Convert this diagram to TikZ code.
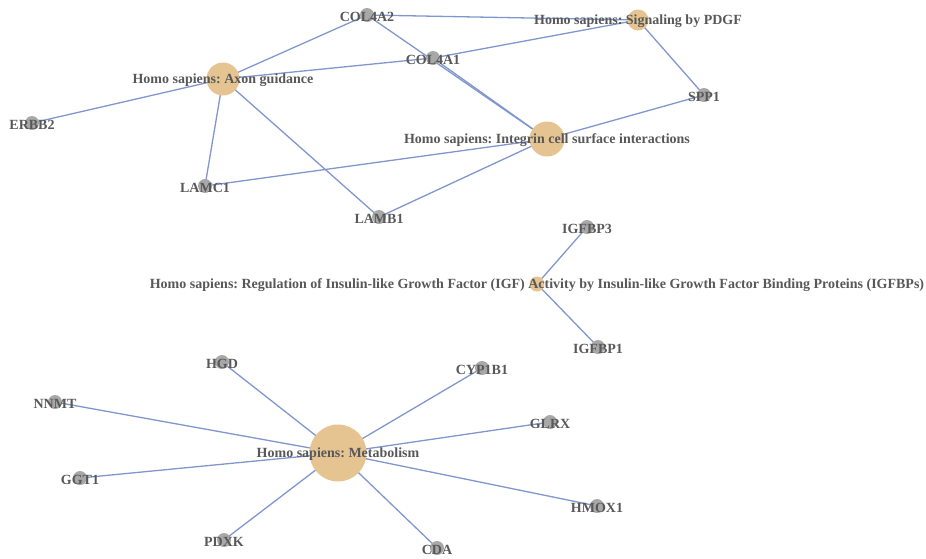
\documentclass[tikz,border=0pt]{standalone}
\usepackage{fontspec}
\setmainfont{Liberation Serif}
\usetikzlibrary{backgrounds}
\frenchspacing
\definecolor{edgec}{RGB}{128,150,205}
\definecolor{pathc}{RGB}{229,196,146}
\definecolor{genec}{RGB}{168,168,168}
\definecolor{textc}{RGB}{88,88,88}
\tikzset{
  gene/.style={circle,fill=genec,inner sep=0pt,minimum size=14pt},
  pathway/.style={circle,fill=pathc,inner sep=0pt,minimum size=#1},
  lbl/.style={font=\bfseries\fontsize{14}{16}\selectfont,text=textc,inner sep=0pt,yshift=-1.5pt},
  edge/.style={draw=edgec,line width=1.3pt}
}
\begin{document}
\frenchspacing
\begin{tikzpicture}[x=1pt,y=-1pt]
\useasboundingbox (0,0) rectangle (926,558);
% pathways
\node[pathway=33pt,label={[lbl]center:Homo sapiens: Axon guidance}] (axon) at (223,79) {};
\node[pathway=21pt,label={[lbl]center:Homo sapiens: Signaling by PDGF}] (pdgf) at (638,20) {};
\node[pathway=35pt,label={[lbl]center:Homo sapiens: Integrin cell surface interactions}] (integ) at (547,139) {};
\node[pathway=15pt,label={[lbl]center:Homo sapiens: Regulation of Insulin-like Growth Factor (IGF) Activity by Insulin-like Growth Factor Binding Proteins (IGFBPs)}] (igf) at (537,284) {};
\node[pathway=57pt,label={[lbl]center:Homo sapiens: Metabolism}] (metab) at (338,453) {};
% genes
\node[gene,label={[lbl]center:COL4A2}] (col4a2) at (367,15) {};
\node[gene,label={[lbl]center:COL4A1}] (col4a1) at (433,58) {};
\node[gene,label={[lbl]center:SPP1}] (spp1) at (704,95) {};
\node[gene,label={[lbl]center:ERBB2}] (erbb2) at (32,123) {};
\node[gene,label={[lbl]center:LAMC1}] (lamc1) at (205,186) {};
\node[gene,label={[lbl]center:LAMB1}] (lamb1) at (379,217) {};
\node[gene,label={[lbl]center:IGFBP3}] (igfbp3) at (587,227) {};
\node[gene,label={[lbl]center:IGFBP1}] (igfbp1) at (598,347) {};
\node[gene,label={[lbl]center:HGD}] (hgd) at (222,362) {};
\node[gene,label={[lbl]center:CYP1B1}] (cyp1b1) at (482,368) {};
\node[gene,label={[lbl]center:NNMT}] (nnmt) at (55,402) {};
\node[gene,label={[lbl]center:GLRX}] (glrx) at (550,422) {};
\node[gene,label={[lbl]center:GGT1}] (ggt1) at (80,478) {};
\node[gene,label={[lbl]center:HMOX1}] (hmox1) at (597,506) {};
\node[gene,label={[lbl]center:PDXK}] (pdxk) at (224,540) {};
\node[gene,label={[lbl]center:CDA}] (cda) at (437,548) {};
\begin{scope}[on background layer]
\foreach \a/\b in {axon/col4a2,axon/col4a1,axon/erbb2,axon/lamc1,axon/lamb1,
  col4a2/pdgf,col4a2/integ,col4a1/pdgf,col4a1/integ,pdgf/spp1,spp1/integ,
  integ/lamc1,integ/lamb1,igf/igfbp3,igf/igfbp1,
  metab/hgd,metab/cyp1b1,metab/nnmt,metab/glrx,metab/ggt1,metab/hmox1,metab/pdxk,metab/cda}
  \draw[edge] (\a.center) -- (\b.center);
\end{scope}
\end{tikzpicture}
\end{document}
